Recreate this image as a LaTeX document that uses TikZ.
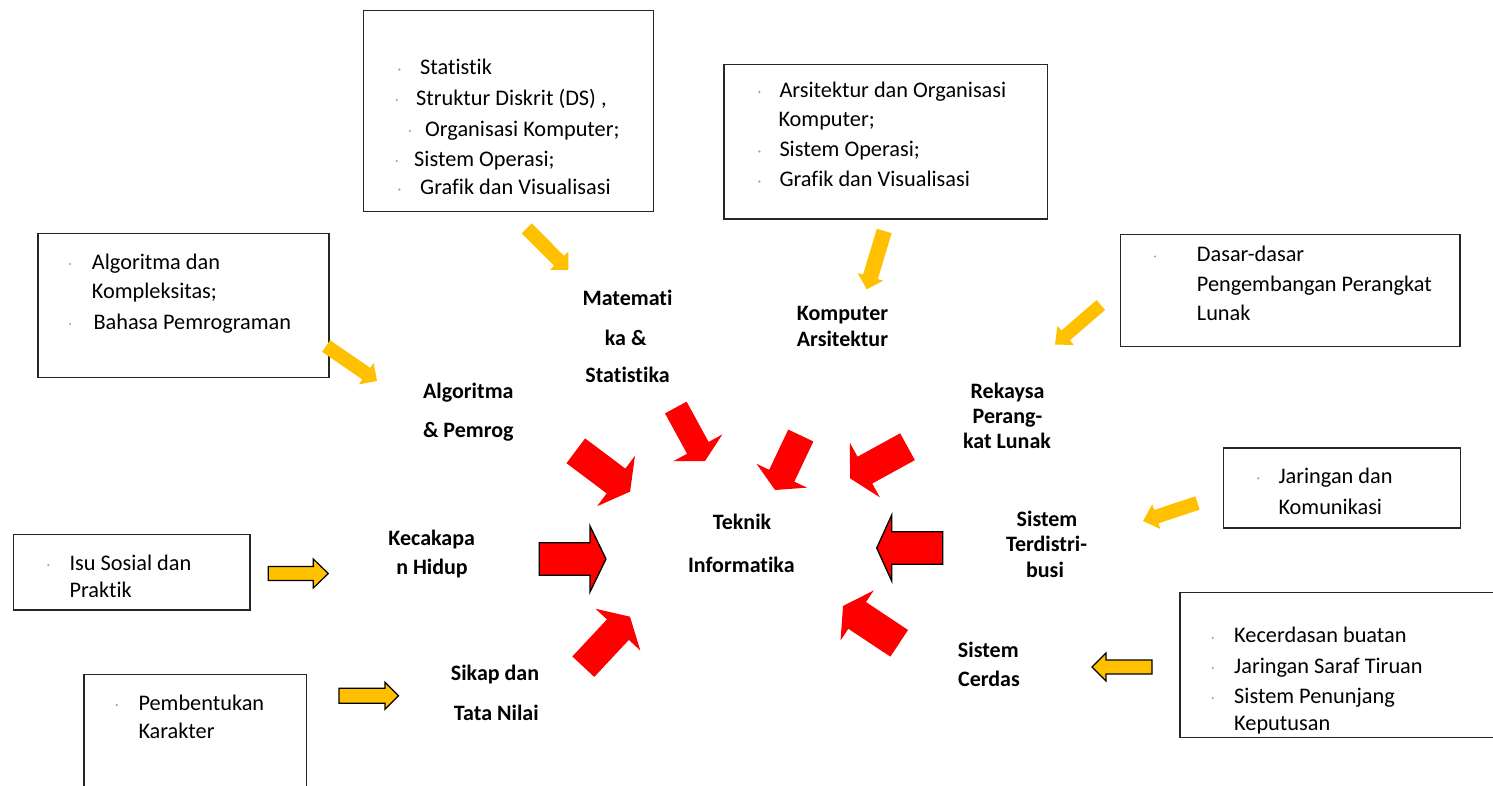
\documentclass[tikz,border=0pt]{standalone}
\usepackage{fontspec}
\setmainfont{Carlito}[Ligatures={NoCommon,NoRequired,NoContextual}]
\usetikzlibrary{calc}
\definecolor{ylw}{HTML}{FFC000}
\definecolor{rd}{HTML}{FF0000}
\definecolor{frm}{HTML}{262626}
\definecolor{bulc}{HTML}{A0A0A0}
% block arrow: #1 style, #2 tail coordinate, #3 tip coordinate, #4 shaft half width, #5 head half width, #6 head length
\newcommand{\blockarr}[6]{%
  \coordinate (#3-b) at ($(#3)!#6!(#2)$);
  \path[#1] (#3) -- ($(#3-b)!#5!90:(#3)$) -- ($(#3-b)!#4!90:(#3)$)
    -- ($(#2)!#4!90:(#3)$) -- ($(#2)!#4!-90:(#3)$)
    -- ($(#3-b)!#4!-90:(#3)$) -- ($(#3-b)!#5!-90:(#3)$) -- cycle;}
\newcommand{\bul}[1]{\fill[bulc] #1 circle (1.2pt);}
\begin{document}
\begin{tikzpicture}[x=1pt,y=-1pt,
  box/.style={draw=frm, line width=1.3pt, inner sep=0pt, anchor=north west},
  btxt/.style={anchor=base west, inner sep=0pt, font=\fontsize{22.3}{26}\selectfont},
  lab/.style={anchor=base, inner sep=0pt, font=\bfseries\fontsize{22}{26}\selectfont},
  redarr/.style={fill=rd},
  redarro/.style={fill=rd, draw=black, line width=1.3pt},
  ylwarr/.style={fill=ylw},
  ylwarro/.style={fill=ylw, draw=black, line width=1.2pt}]
\clip (0,0) rectangle (1493,785);
\fill[white] (0,0) rectangle (1493,785);

% ---------- boxes ----------
\node[box, minimum width=290pt, minimum height=201pt] (b1) at (362.7,9.7) {};
\node[btxt] (b1a) at (420,74.7) {Statistik};
\node[btxt] (b1b) at (416,105.3) {Struktur Diskrit (DS) ,};
\node[btxt] (b1c) at (425,136.3) {Organisasi Komputer;};
\node[btxt] (b1d) at (414,166.3) {Sistem Operasi;};
\node[btxt] (b1e) at (420,194.7) {Grafik dan Visualisasi};
\bul{(399.3,69.5)} \bul{(396.7,100)} \bul{(410,131)} \bul{(396.7,161)} \bul{(399.3,189.5)}

\node[box, minimum width=323.4pt, minimum height=154.3pt] (b2) at (723.3,64) {};
\node[btxt] (b2a) at (779.3,97.3) {Arsitektur dan Organisasi};
\node[btxt] (b2b) at (778.3,126.7) {Komputer;};
\node[btxt] (b2c) at (779.3,156.7) {Sistem Operasi;};
\node[btxt] (b2d) at (779.3,186.7) {Grafik dan Visualisasi};
\bul{(759.3,92)} \bul{(759.3,151.5)} \bul{(759.3,181.5)}

\node[box, minimum width=291pt, minimum height=144pt] (b3) at (37.3,232.7) {};
\node[btxt] (b3a) at (91.7,269.3) {Algoritma dan};
\node[btxt] (b3b) at (91.7,298.3) {Kompleksitas;};
\node[btxt] (b3c) at (93.3,329.3) {Bahasa Pemrograman};
\bul{(70,264)} \bul{(70,324)}

\node[box, minimum width=339.3pt, minimum height=112pt] (b4) at (1120,234) {};
\node[btxt] (b4a) at (1196.7,261.7) {Dasar-dasar};
\node[btxt] (b4b) at (1196.7,291.7) {Pengembangan Perangkat};
\node[btxt] (b4c) at (1196.7,320.7) {Lunak};
\bul{(1155,256.5)}

\node[box, minimum width=237.3pt, minimum height=80pt] (b5) at (1222.7,447.3) {};
\node[btxt] (b5a) at (1278.3,483.3) {Jaringan dan};
\node[btxt] (b5b) at (1278.3,514) {Komunikasi};
\bul{(1258.3,478.3)}

\node[box, minimum width=236.6pt, minimum height=75.3pt] (b6) at (12.7,534) {};
\node[btxt] (b6a) at (69.3,570) {Isu Sosial dan};
\node[btxt] (b6b) at (69.3,597.3) {Praktik};
\bul{(48.3,565)}

\node[box, minimum width=222.7pt, minimum height=200pt] (b7) at (83.3,674) {};
\node[btxt] (b7a) at (138.3,710) {Pembentukan};
\node[btxt] (b7b) at (138.3,738.3) {Karakter};
\bul{(116.7,705)}

\node[box, minimum width=400pt, minimum height=145pt] (b8) at (1179.3,591.7) {};
\node[btxt] (b8a) at (1234,642.7) {Kecerdasan buatan};
\node[btxt] (b8b) at (1234,673.3) {Jaringan Saraf Tiruan};
\node[btxt] (b8c) at (1234,703.3) {Sistem Penunjang};
\node[btxt] (b8d) at (1234,730) {Keputusan};
\bul{(1212.7,638)} \bul{(1212.7,668)} \bul{(1212.7,698)}

% ---------- bold labels ----------
\node[lab] (m1) at (627.5,305) {Matemati};
\node[lab] (m2) at (625.7,345) {ka \&};
\node[lab] (m3) at (627.5,382.3) {Statistika};
\node[lab] (k1) at (842.5,320) {Komputer};
\node[lab] (k2) at (842.5,346) {Arsitektur};
\node[lab] (a1) at (468.3,398.3) {Algoritma};
\node[lab] (a2) at (468.3,437.3) {\& Pemrog};
\node[lab] (h1) at (431.7,545.7) {Kecakapa};
\node[lab] (h2) at (432,574) {n Hidup};
\node[lab] (s1) at (495,680) {Sikap dan};
\node[lab] (s2) at (496.3,720) {Tata Nilai};
\node[lab] (r1) at (1007.5,398.3) {Rekaysa};
\node[lab] (r2) at (1007.5,423.3) {Perang-};
\node[lab] (r3) at (1007,448.3) {kat Lunak};
\node[lab] (d1) at (1047,526.7) {Sistem};
\node[lab] (d2) at (1046.5,551.7) {Terdistri-};
\node[lab] (d3) at (1045,577.3) {busi};
\node[lab] (c1) at (988.3,657.3) {Sistem};
\node[lab] (c2) at (989,686) {Cerdas};
\node[lab] (t1) at (742,529) {Teknik};
\node[lab] (t2) at (741.3,572.7) {Informatika};

% ---------- red arrows ----------
\coordinate (ra1s) at (575.8,450.8); \coordinate (ra1t) at (630.1,491.6);
\blockarr{redarr}{ra1s}{ra1t}{15.5pt}{31.5pt}{17.6pt}
\coordinate (ra2s) at (675.8,407.5); \coordinate (ra2t) at (705,461);
\blockarr{redarr}{ra2s}{ra2t}{12.3pt}{28pt}{15pt}
\coordinate (ra3s) at (800.8,435.5); \coordinate (ra3t) at (775,490);
\blockarr{redarr}{ra3s}{ra3t}{13.9pt}{27.9pt}{15.8pt}
\coordinate (ra4s) at (907.5,446.7); \coordinate (ra4t) at (850,478.3);
\blockarr{redarr}{ra4s}{ra4t}{15.3pt}{31pt}{17pt}
\coordinate (ra5s) at (539.3,559); \coordinate (ra5t) at (606,559);
\blockarr{redarro}{ra5s}{ra5t}{16.2pt}{33pt}{16pt}
\coordinate (ra6s) at (942.7,548); \coordinate (ra6t) at (876.7,548);
\blockarr{redarro}{ra6s}{ra6t}{16.2pt}{33pt}{15pt}
\coordinate (ra7s) at (583.3,666.7); \coordinate (ra7t) at (630,616.7);
\blockarr{redarr}{ra7s}{ra7t}{15pt}{30.6pt}{17.7pt}
\coordinate (ra8s) at (899.2,643.3); \coordinate (ra8t) at (843,606);
\blockarr{redarr}{ra8s}{ra8t}{16pt}{30pt}{17pt}

% ---------- yellow arrows ----------
\coordinate (ya1s) at (526.7,228.3); \coordinate (ya1t) at (568.3,270);
\blockarr{ylwarr}{ya1s}{ya1t}{7pt}{13pt}{13pt}
\coordinate (ya2s) at (884.2,231); \coordinate (ya2t) at (866.7,289.3);
\blockarr{ylwarr}{ya2s}{ya2t}{7.7pt}{13.3pt}{13pt}
\coordinate (ya3s) at (326,346); \coordinate (ya3t) at (377,381);
\blockarr{ylwarr}{ya3s}{ya3t}{7pt}{13pt}{13pt}
\coordinate (ya4s) at (1100.8,305); \coordinate (ya4t) at (1055,344.6);
\blockarr{ylwarr}{ya4s}{ya4t}{6.5pt}{12.5pt}{14pt}
\coordinate (ya5s) at (1197.5,503); \coordinate (ya5t) at (1143,521);
\blockarr{ylwarr}{ya5s}{ya5t}{7pt}{13pt}{14pt}
\coordinate (ya6s) at (268.3,573.5); \coordinate (ya6t) at (328.3,573.5);
\blockarr{ylwarro}{ya6s}{ya6t}{7pt}{14.5pt}{15pt}
\coordinate (ya7s) at (339,695.8); \coordinate (ya7t) at (398.5,695.8);
\blockarr{ylwarro}{ya7s}{ya7t}{7.5pt}{13.5pt}{13.5pt}
\coordinate (ya8s) at (1152,667); \coordinate (ya8t) at (1092,667);
\blockarr{ylwarro}{ya8s}{ya8t}{7pt}{14pt}{14pt}
\end{tikzpicture}
\end{document}
